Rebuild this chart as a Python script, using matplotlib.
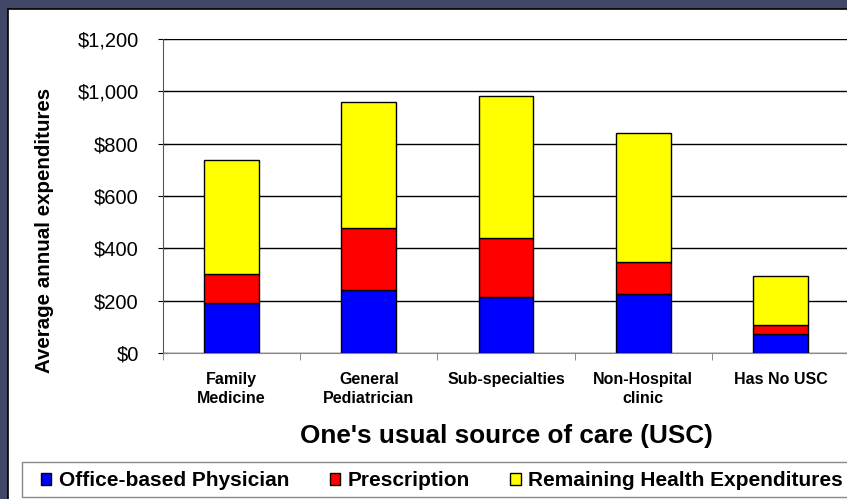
import matplotlib
matplotlib.use("Agg")
import matplotlib.pyplot as plt
import matplotlib.ticker as mticker
from matplotlib.patches import Rectangle
import numpy as np

# data
categories = ["Family\nMedicine", "General\nPediatrician", "Sub-specialties",
              "Non-Hospital\nclinic", "Has No USC"]
office = [192, 240, 215, 225, 71]
prescription = [109, 239, 224, 124, 36]
remaining = [436, 481, 544, 493, 188]
series_names = ["Office-based Physician", "Prescription", "Remaining Health Expenditures"]
y_ticks = [0, 200, 400, 600, 800, 1000, 1200]

BG_COLOR = "#414766"
COLORS = ["#0000ff", "#ff0000", "#ffff00"]

plt.rcParams["font.family"] = ["Liberation Sans", "DejaVu Sans"]

W, H = 847, 499
fig = plt.figure(figsize=(W / 100, H / 100), dpi=100, facecolor=BG_COLOR)

# white panel with black border, running off right/bottom edges
panel = Rectangle((8 / W, -0.05), 1.0, 1 - 9 / H + 0.05,
                  transform=fig.transFigure, facecolor="white",
                  edgecolor="black", linewidth=1.2, zorder=-5)
fig.patches.append(panel)

# legend frame
leg_box = Rectangle((22 / W, 2 / H), 1.0, 35 / H, transform=fig.transFigure,
                    facecolor="white", edgecolor="#888888", linewidth=1.0, zorder=-4)
fig.patches.append(leg_box)

ax = fig.add_axes([163 / W, 1 - 353 / H, 686 / W, 314 / H])
ax.set_facecolor("white")

x = np.arange(len(categories))
bottom = np.zeros(len(categories))
for vals, color, name in zip([office, prescription, remaining], COLORS, series_names):
    ax.bar(x, vals, width=0.4, bottom=bottom, color=color, edgecolor="black",
           linewidth=1.0, label=name, zorder=3)
    bottom += np.array(vals)

ax.set_xlim(-0.5, len(categories) - 0.5)
ax.set_ylim(0, 1200)
ax.set_yticks(y_ticks)
ax.yaxis.set_major_formatter(mticker.FuncFormatter(lambda v, _: f"${v:,.0f}"))
ax.grid(True, axis="y", color="black", linewidth=1.0, zorder=0)

ax.set_xticks(x)
ax.set_xticklabels(categories, fontsize=11.5, fontweight="bold", linespacing=1.3)
ax.set_xticks(np.arange(-0.5, len(categories), 1.0), minor=True)
ax.tick_params(axis="x", which="major", length=0, pad=14)
ax.tick_params(axis="x", which="minor", length=5, color="#777777", direction="out")
ax.tick_params(axis="y", direction="inout", length=7, labelsize=14.5, pad=14)

for s in ["top", "right"]:
    ax.spines[s].set_visible(False)
ax.spines["left"].set_color("#555555")
ax.spines["bottom"].set_color("#888888")
ax.axhline(1200, color="#999999", linewidth=1.2, zorder=1)

fig.text(45 / W, 1 - 230 / H, "Average annual expenditures", rotation=90,
         fontsize=14.8, fontweight="bold", ha="center", va="center")
ax.set_xlabel("One's usual source of care (USC)", fontsize=18.8, fontweight="bold", labelpad=13)

leg = fig.legend(loc="center left", bbox_to_anchor=(41 / W, 18 / H),
                 ncol=3, frameon=False, prop={"weight": "bold", "size": 15},
                 handlelength=0.5, handleheight=0.5, handletextpad=0.35,
                 columnspacing=1.95, borderaxespad=0, borderpad=0)

fig.savefig("out.png", dpi=100, facecolor=BG_COLOR)
